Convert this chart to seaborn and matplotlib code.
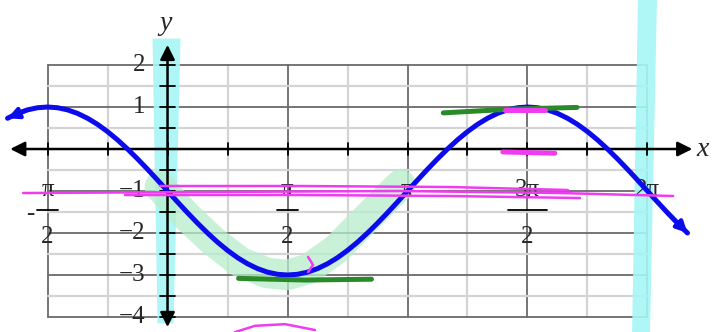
import numpy as np
import matplotlib
matplotlib.use("Agg")
import matplotlib.pyplot as plt
import seaborn as sns
import pandas as pd

# ---------------------------------------------------------
# datos: y = f(x), x en pasos de pi/24
# ---------------------------------------------------------
pasos = list(range(-16, 53))
y_curva = [0.732, 0.848, 0.932, 0.983, 1.0, 0.983, 0.932, 0.848,
           0.732, 0.587, 0.414, 0.218, 0.0, -0.235, -0.482, -0.739,
           -1.0, -1.261, -1.518, -1.765, -2.0, -2.218, -2.414, -2.587,
           -2.732, -2.848, -2.932, -2.983, -3.0, -2.983, -2.932, -2.848,
           -2.732, -2.587, -2.414, -2.218, -2.0, -1.765, -1.518, -1.261,
           -1.0, -0.739, -0.482, -0.235, 0.0, 0.218, 0.414, 0.587,
           0.732, 0.848, 0.932, 0.983, 1.0, 0.983, 0.932, 0.848,
           0.732, 0.587, 0.414, 0.218, 0.0, -0.235, -0.482, -0.739,
           -1.0, -1.261, -1.518, -1.765, -2.0]
x_curva = [k * np.pi / 24 for k in pasos]

# etiquetas de los ejes
y_ticks = [2, 1, -1, -2, -3, -4]
y_labels = ["2", "1", "\u22121", "\u22122", "\u22123", "\u22124"]
x_frac = [-np.pi / 2, np.pi / 2, 3 * np.pi / 2]
x_frac_num = ["\u03c0", "\u03c0", "3\u03c0"]
x_simple = [np.pi, 2 * np.pi]
x_simple_lbl = ["\u03c0", "2\u03c0"]

# trazos de marcador (resaltador) hechos a mano sobre la imagen
cian1_y = [2.64, -4.14]
cian1_izq = [-0.203, -0.137]
cian1_der = [0.164, 0.072]
cian2_y = [3.6, -4.4]
cian2_izq = [6.159, 6.081]
cian2_der = [6.408, 6.316]

verde_x = [-0.10, 0.25, 0.60, 0.95, 1.30, 1.57, 1.85, 2.20, 2.50, 2.80, 3.05]
verde_y = [-0.90, -1.60, -2.20, -2.69, -2.95, -3.00, -2.85, -2.40, -1.85, -1.30, -0.85]

min_x = [0.93, 1.8, 2.67]
min_y = [-3.08, -3.12, -3.10]
max_x = [3.61, 4.5, 5.36]
max_y = [0.86, 0.95, 0.99]

magA_x = [-1.89, 0.425, 3.04, 5.14, 6.62]
magA_y = [-1.048, -1.024, -1.0, -1.048, -1.119]
magB_x = [-0.556, 1.73, 3.70, 5.40]
magB_y = [-1.095, -1.095, -1.119, -1.167]
magC_x = [-0.098, 1.73, 3.70, 5.24]
magC_y = [-0.881, -0.881, -0.905, -0.976]
magD_x = [4.42, 4.94]
magD_y = [0.93, 0.93]
magE_x = [4.39, 5.07]
magE_y = [-0.07, -0.10]
magF_x = [1.84, 1.905, 1.84]
magF_y = [-2.57, -2.76, -2.93]
magG_x = [0.884, 1.145, 1.538, 1.93]
magG_y = [-4.36, -4.21, -4.17, -4.31]

df = pd.DataFrame({"x": x_curva, "y": y_curva})

sns.set_theme(style="white")
plt.rcParams["font.family"] = ["Liberation Serif", "DejaVu Serif"]

fig = plt.figure(figsize=(7.15, 3.32), dpi=100)
ax = fig.add_axes([0, 0, 1, 1])
ax.set_xlim(-2.193, 7.167)
ax.set_ylim(-4.357, 3.548)
ax.axis("off")

# cuadricula
q = np.pi / 4
for k in range(-2, 9):
    oscura = k % 2 == 0
    ax.plot([k * q, k * q], [-4, 2], color="#6a6a6a" if oscura else "#d4d4d4",
            lw=1.3 if oscura else 1.6, zorder=1)
for v in np.arange(-4, 2.01, 0.5):
    oscura = float(v).is_integer()
    ax.plot([-np.pi / 2, 2 * np.pi], [v, v], color="#6a6a6a" if oscura else "#d4d4d4",
            lw=1.3 if oscura else 1.6, zorder=1)

# resaltador
ax.fill_betweenx(cian1_y, cian1_izq, cian1_der, color="#a6f5f5", alpha=0.9, lw=0, zorder=2)
ax.fill_betweenx(cian2_y, cian2_izq, cian2_der, color="#a6f5f5", alpha=0.9, lw=0, zorder=2)
ax.plot(verde_x, verde_y, color="#b8edcc", lw=22, alpha=0.75, solid_capstyle="round", zorder=2)

# ejes con flechas
ax.annotate("", xy=(6.87, 0), xytext=(-2.06, 0),
            arrowprops=dict(arrowstyle="<|-|>", color="black", lw=1.8,
                            mutation_scale=22, shrinkA=0, shrinkB=0), zorder=4)
ax.annotate("", xy=(0, 2.48), xytext=(0, -4.24),
            arrowprops=dict(arrowstyle="<|-|>", color="black", lw=1.8,
                            mutation_scale=22, shrinkA=0, shrinkB=0), zorder=4)
for k in range(-2, 9):
    ax.plot([k * q, k * q], [-0.14, 0.14], color="black", lw=1.3, zorder=4)
for v in np.arange(-4, 2.01, 0.5):
    ax.plot([-0.098, 0.098], [v, v], color="black", lw=1.3, zorder=4)

# curva
sns.lineplot(data=df, x="x", y="y", color="#0b0bec", lw=3.6, ax=ax, zorder=5,
             sort=False, legend=False)
ax.annotate("", xy=(x_curva[0], y_curva[0]), xytext=(x_curva[2], y_curva[2]),
            arrowprops=dict(arrowstyle="-|>", color="#0b0bec", lw=3,
                            mutation_scale=16, shrinkA=0, shrinkB=0), zorder=5)
ax.annotate("", xy=(x_curva[-1], y_curva[-1]), xytext=(x_curva[-3], y_curva[-3]),
            arrowprops=dict(arrowstyle="-|>", color="#0b0bec", lw=3,
                            mutation_scale=16, shrinkA=0, shrinkB=0), zorder=5)

# trazos encima
ax.plot(min_x, min_y, color="#2a8a2a", lw=3.6, solid_capstyle="round", zorder=6)
ax.plot(max_x, max_y, color="#2a8a2a", lw=3.6, solid_capstyle="round", zorder=6)
for mx, my in [(magA_x, magA_y), (magB_x, magB_y), (magC_x, magC_y),
               (magF_x, magF_y), (magG_x, magG_y)]:
    ax.plot(mx, my, color="#f03cf0", lw=1.8, zorder=7)
ax.plot(magD_x, magD_y, color="#f03cf0", lw=3.6, solid_capstyle="round", zorder=7)
ax.plot(magE_x, magE_y, color="#f03cf0", lw=3.6, solid_capstyle="round", zorder=7)

# etiquetas
fs = 18
for v, t in zip(y_ticks, y_labels):
    ax.text(-0.29, v, t, ha="right", va="center", fontsize=fs, zorder=3)
for xv, t in zip(x_frac, x_frac_num):
    ax.text(xv, -0.98, t, ha="center", va="center", fontsize=fs, zorder=3)
    w = 0.25 if len(t) > 1 else 0.14
    ax.plot([xv - w, xv + w], [-1.45, -1.45], color="black", lw=1.3, zorder=3)
    ax.text(xv, -2.1, "2", ha="center", va="center", fontsize=fs, zorder=3)
ax.text(-np.pi / 2 - 0.17, -1.55, "-", ha="right", va="center", fontsize=fs, zorder=3)
for xv, t in zip(x_simple, x_simple_lbl):
    ax.text(xv, -0.98, t, ha="center", va="center", fontsize=fs, zorder=3)
ax.text(-0.02, 3.0, "y", ha="center", va="center", fontsize=20, style="italic")
ax.text(7.0, 0.0, "x", ha="center", va="center", fontsize=20, style="italic")

fig.savefig("out.png", dpi=100)
